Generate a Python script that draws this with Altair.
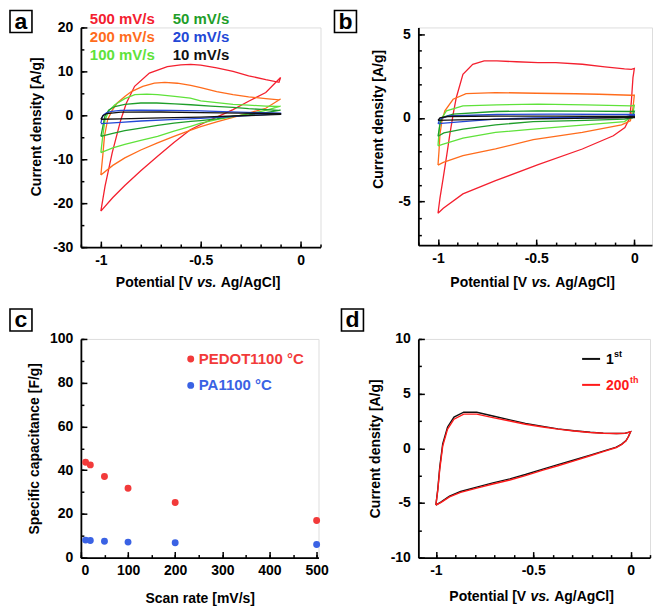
import altair as alt
import pandas as pd

FONT = "Liberation Sans"
RED = "#f4202f"
ORANGE = "#ff6c1c"
LGREEN = "#5fe23a"
DGREEN = "#1f9e2a"
BLUE = "#2348d6"
BLACK = "#111111"

# ---------------- panel a : CV curves (scan rates) ----------------
A_NAMES = ["500 mV/s", "200 mV/s", "100 mV/s", "50 mV/s", "20 mV/s", "10 mV/s"]
A_COLORS = [RED, ORANGE, LGREEN, DGREEN, BLUE, BLACK]

A500_UP_V = [-1.0, -0.979, -0.943, -0.9, -0.872, -0.831, -0.757, -0.667, -0.6, -0.55, -0.5, -0.42, -0.338, -0.26, -0.174, -0.108, -0.1]
A500_UP_I = [-21.8, -16.1, -8.5, -1.0, 2.8, 6.6, 9.6, 11.1, 11.5, 11.6, 11.4, 10.8, 10.0, 9.0, 8.1, 7.5, 8.6]
A500_DN_V = [-0.1, -0.174, -0.26, -0.338, -0.42, -0.5, -0.552, -0.634, -0.716, -0.8, -0.88, -0.94, -1.0]
A500_DN_I = [8.6, 5.2, 3.2, 1.3, -0.4, -2.1, -3.3, -6.2, -9.3, -12.6, -16.0, -18.7, -21.8]

A200_UP_V = [-1.0, -0.99, -0.982, -0.966, -0.945, -0.918, -0.88, -0.847, -0.79, -0.732, -0.68, -0.617, -0.55, -0.5, -0.42, -0.338, -0.26, -0.174, -0.108, -0.1]
A200_UP_I = [-13.6, -9.0, -4.8, -1.0, 1.0, 2.8, 4.3, 5.4, 6.6, 7.3, 7.5, 7.3, 6.8, 6.3, 5.4, 4.7, 4.2, 3.8, 3.5, 3.7]
A200_DN_V = [-0.1, -0.174, -0.26, -0.338, -0.42, -0.5, -0.55, -0.634, -0.716, -0.8, -0.88, -0.94, -1.0]
A200_DN_I = [3.7, 1.6, 0.5, -0.5, -1.5, -2.6, -3.4, -4.8, -6.3, -7.9, -9.7, -11.4, -13.6]

A100_UP_V = [-1.0, -0.99, -0.979, -0.96, -0.93, -0.88, -0.83, -0.77, -0.716, -0.63, -0.552, -0.5, -0.42, -0.338, -0.26, -0.174, -0.108, -0.1]
A100_UP_I = [-8.5, -4.5, -1.0, 1.0, 2.4, 3.8, 4.7, 4.8, 4.7, 4.3, 3.9, 3.3, 2.9, 2.5, 2.3, 2.1, 2.0, 2.1]
A100_DN_V = [-0.1, -0.174, -0.26, -0.338, -0.42, -0.5, -0.55, -0.634, -0.716, -0.8, -0.88, -0.94, -1.0]
A100_DN_I = [2.1, 1.1, 0.3, -0.3, -1.0, -1.8, -2.5, -3.6, -4.8, -5.7, -6.6, -7.4, -8.5]

A50_UP_V = [-1.0, -0.99, -0.98, -0.96, -0.93, -0.88, -0.8, -0.72, -0.63, -0.55, -0.45, -0.338, -0.26, -0.174, -0.108, -0.1]
A50_UP_I = [-4.8, -2.5, -0.2, 1.2, 2.0, 2.5, 2.8, 2.8, 2.6, 2.4, 2.1, 1.8, 1.5, 1.3, 1.1, 1.2]
A50_DN_V = [-0.1, -0.174, -0.26, -0.338, -0.42, -0.5, -0.55, -0.634, -0.716, -0.8, -0.88, -0.94, -1.0]
A50_DN_I = [1.2, 0.6, 0.1, -0.2, -0.8, -1.2, -1.4, -1.8, -2.3, -2.9, -3.5, -4.1, -4.8]

A20_UP_V = [-1.0, -0.995, -0.987, -0.97, -0.946, -0.9, -0.8, -0.65, -0.5, -0.35, -0.2, -0.1]
A20_UP_I = [-1.8, -0.8, 0.1, 0.6, 0.9, 1.1, 1.2, 1.1, 1.0, 0.8, 0.6, 0.5]
A20_DN_V = [-0.1, -0.2, -0.35, -0.5, -0.65, -0.8, -0.9, -0.96, -1.0]
A20_DN_I = [0.3, 0.1, -0.3, -0.7, -1.0, -1.3, -1.6, -1.8, -1.9]

A10_UP_V = [-1.0, -0.99, -0.97, -0.9, -0.7, -0.5, -0.3, -0.1]
A10_UP_I = [-0.9, -0.1, 0.4, 0.7, 0.75, 0.6, 0.5, 0.4]
A10_DN_V = [-0.1, -0.3, -0.5, -0.7, -0.9, -1.0]
A10_DN_I = [0.2, -0.1, -0.4, -0.6, -0.8, -0.9]

# ---------------- panel b ----------------
B500_UP_V = [-1.0, -0.99, -0.973, -0.955, -0.94, -0.92, -0.907, -0.873, -0.823, -0.765, -0.7, -0.6, -0.49, -0.4, -0.265, -0.15, -0.05, -0.015, 0.0]
B500_UP_I = [-5.7, -4.8, -3.55, -2.2, -1.0, 0.4, 1.2, 2.6, 3.2, 3.4, 3.4, 3.35, 3.3, 3.3, 3.2, 3.05, 2.92, 2.9, 2.95]
B500_DN_V = [0.0, -0.003, -0.007, -0.015, -0.023, -0.048, -0.107, -0.265, -0.49, -0.707, -0.873, -0.973, -1.0]
B500_DN_I = [2.95, 2.7, 2.4, 1.0, 0.0, -0.58, -1.07, -1.86, -2.8, -3.75, -4.54, -5.4, -5.7]

B200_UP_V = [-1.0, -0.995, -0.99, -0.98, -0.965, -0.923, -0.857, -0.707, -0.5, -0.3, -0.18, -0.015, 0.0]
B200_UP_I = [-2.82, -2.0, -0.97, -0.2, 0.42, 1.11, 1.45, 1.51, 1.47, 1.44, 1.41, 1.35, 1.35]
B200_DN_V = [0.0, -0.007, -0.02, -0.065, -0.265, -0.515, -0.707, -0.873, -0.973, -1.0]
B200_DN_I = [1.35, 0.6, -0.18, -0.42, -0.87, -1.3, -1.86, -2.26, -2.66, -2.82]

B100_UP_V = [-1.0, -0.995, -0.99, -0.957, -0.873, -0.7, -0.49, -0.25, -0.015, 0.0]
B100_UP_I = [-1.67, -0.9, -0.18, 0.42, 0.71, 0.78, 0.82, 0.78, 0.72, 0.75]
B100_DN_V = [0.0, -0.01, -0.05, -0.25, -0.515, -0.707, -0.873, -0.973, -1.0]
B100_DN_I = [0.75, 0.1, -0.22, -0.42, -0.67, -0.87, -1.21, -1.57, -1.67]

B50_UP_V = [-1.0, -0.99, -0.98, -0.923, -0.707, -0.49, -0.25, -0.015, 0.0]
B50_UP_I = [-1.1, -0.4, 0.02, 0.22, 0.38, 0.42, 0.4, 0.38, 0.4]
B50_DN_V = [0.0, -0.01, -0.05, -0.25, -0.515, -0.707, -0.873, -0.97, -1.0]
B50_DN_I = [0.4, 0.0, -0.08, -0.15, -0.22, -0.42, -0.67, -0.9, -1.1]

B20_UP_V = [-1.0, -0.99, -0.95, -0.7, -0.4, -0.1, 0.0]
B20_UP_I = [-0.35, -0.08, 0.12, 0.2, 0.22, 0.2, 0.2]
B20_DN_V = [0.0, -0.05, -0.3, -0.515, -0.707, -0.873, -1.0]
B20_DN_I = [0.15, 0.05, 0.03, 0.0, -0.08, -0.22, -0.35]

B10_UP_V = [-1.0, -0.99, -0.95, -0.7, -0.4, -0.1, 0.0]
B10_UP_I = [-0.15, 0.0, 0.08, 0.1, 0.1, 0.08, 0.08]
B10_DN_V = [0.0, -0.3, -0.6, -0.9, -1.0]
B10_DN_I = [0.02, -0.03, -0.07, -0.12, -0.15]

# ---------------- panel c : specific capacitance ----------------
SCAN_RATES = [10, 20, 50, 100, 200, 500]
PEDOT_CAP = [43.6, 42.4, 37.1, 31.7, 25.2, 17.0]
PA_CAP = [8.0, 7.8, 7.5, 7.1, 6.8, 6.0]
C_NAMES = ["PEDOT1100 °C", "PA1100 °C"]
C_COLORS = ["#f23a3a", "#3a62e4"]

# ---------------- panel d : cycling ----------------
D_NAMES = ["1st", "200th"]
D_COLORS = [BLACK, "#ff1a1a"]
D_UP_V = [-1.0, -0.99, -0.98, -0.965, -0.94, -0.907, -0.857, -0.79, -0.707, -0.62, -0.54, -0.45, -0.373, -0.29, -0.207, -0.14, -0.073, -0.03, 0.0]
D1_UP_I = [-5.2, -3.7, -1.7, 0.4, 1.95, 2.85, 3.3, 3.3, 2.95, 2.6, 2.28, 2.0, 1.78, 1.6, 1.46, 1.39, 1.35, 1.36, 1.5]
D200_UP_I = [-5.2, -3.8, -1.9, 0.2, 1.75, 2.66, 3.12, 3.12, 2.81, 2.5, 2.2, 1.95, 1.75, 1.58, 1.44, 1.38, 1.35, 1.36, 1.5]
D_DN_V = [0.0, -0.01, -0.023, -0.045, -0.073, -0.14, -0.207, -0.29, -0.373, -0.45, -0.54, -0.62, -0.707, -0.79, -0.873, -0.93, -0.973, -1.0]
D1_DN_I = [1.5, 1.1, 0.7, 0.38, 0.1, -0.26, -0.62, -1.07, -1.5, -1.9, -2.4, -2.8, -3.17, -3.55, -3.95, -4.38, -4.9, -5.2]
D200_DN_I = [1.5, 1.1, 0.68, 0.35, 0.07, -0.3, -0.68, -1.15, -1.6, -2.0, -2.5, -2.9, -3.27, -3.65, -4.03, -4.45, -4.95, -5.2]


def loop(field, name, uv, ui, dv, di):
    v = list(uv) + list(dv)
    i = list(ui) + list(di)
    return pd.DataFrame({field: name, "V": v, "I": i, "k": list(range(len(v)))})


df_a = pd.concat([
    loop("sa", "500 mV/s", A500_UP_V, A500_UP_I, A500_DN_V, A500_DN_I),
    loop("sa", "200 mV/s", A200_UP_V, A200_UP_I, A200_DN_V, A200_DN_I),
    loop("sa", "100 mV/s", A100_UP_V, A100_UP_I, A100_DN_V, A100_DN_I),
    loop("sa", "50 mV/s", A50_UP_V, A50_UP_I, A50_DN_V, A50_DN_I),
    loop("sa", "20 mV/s", A20_UP_V, A20_UP_I, A20_DN_V, A20_DN_I),
    loop("sa", "10 mV/s", A10_UP_V, A10_UP_I, A10_DN_V, A10_DN_I),
])
df_b = pd.concat([
    loop("sb", "500 mV/s", B500_UP_V, B500_UP_I, B500_DN_V, B500_DN_I),
    loop("sb", "200 mV/s", B200_UP_V, B200_UP_I, B200_DN_V, B200_DN_I),
    loop("sb", "100 mV/s", B100_UP_V, B100_UP_I, B100_DN_V, B100_DN_I),
    loop("sb", "50 mV/s", B50_UP_V, B50_UP_I, B50_DN_V, B50_DN_I),
    loop("sb", "20 mV/s", B20_UP_V, B20_UP_I, B20_DN_V, B20_DN_I),
    loop("sb", "10 mV/s", B10_UP_V, B10_UP_I, B10_DN_V, B10_DN_I),
])
df_c = pd.concat([
    pd.DataFrame({"sc": C_NAMES[0], "rate": SCAN_RATES, "cap": PEDOT_CAP}),
    pd.DataFrame({"sc": C_NAMES[1], "rate": SCAN_RATES, "cap": PA_CAP}),
])
df_d = pd.concat([
    loop("sd", "1st", D_UP_V, D1_UP_I, D_DN_V, D1_DN_I),
    loop("sd", "200th", D_UP_V, D200_UP_I, D_DN_V, D200_DN_I),
])


def frange(a, b, step):
    out = []
    n = int(round((b - a) / step))
    for j in range(n + 1):
        out.append(round(a + j * step, 4))
    return out


AX_LABEL = dict(labelFont=FONT, labelFontSize=14, labelFontWeight="bold", labelColor="#000")


def tick_layers(xname, yname, xdom, ydom, W, H, xmaj, xmin, ymaj, ymin):
    pt = pd.DataFrame({xname: [xdom[0]], yname: [ydom[0]]})
    xs = alt.Scale(domain=xdom, nice=False, zero=False)
    ys = alt.Scale(domain=ydom, nice=False, zero=False)
    layers = []
    for vals_x, vals_y, size in [(xmaj, ymaj, 6), (xmin, ymin, 3)]:
        layers.append(
            alt.Chart(pt).mark_point(opacity=0).encode(
                x=alt.X(f"{xname}:Q", scale=xs, axis=alt.Axis(
                    orient="top", offset=-H, values=vals_x, labels=False, domain=False,
                    tickSize=size, tickWidth=1.5, tickColor="#000", title=None,
                    grid=False, minExtent=0, maxExtent=0)),
                y=alt.Y(f"{yname}:Q", scale=ys, axis=alt.Axis(
                    orient="right", offset=-W, values=vals_y, labels=False, domain=False,
                    tickSize=size, tickWidth=1.5, tickColor="#000", title=None,
                    grid=False, minExtent=0, maxExtent=0)),
            )
        )
    return layers


def main_axes(xname, yname, xdom, ydom, xmaj, ymaj, ytitle, ytitle_y, ytitle_x, xtitle=None):
    xa = dict(orient="bottom", values=xmaj, ticks=False, labelPadding=6, domainWidth=1.8,
              domainColor="#000", grid=False, labelExpr="datum.value + ''", **AX_LABEL)
    if xtitle is None:
        xa["title"] = None
    else:
        xa.update(title=xtitle, titleFont=FONT, titleFontSize=14, titleFontWeight="bold",
                  titleColor="#000", titlePadding=14)
    ya = dict(orient="left", values=ymaj, ticks=False, labelPadding=8, domainWidth=1.8,
              domainColor="#000", grid=False, labelExpr="datum.value + ''",
              title=ytitle, titleFont=FONT, titleFontSize=14, titleFontWeight="bold",
              titleColor="#000", titleY=ytitle_y, titleX=ytitle_x, titleBaseline="middle",
              titleAngle=270, **AX_LABEL)
    xe = alt.X(f"{xname}:Q", scale=alt.Scale(domain=xdom, nice=False, zero=False), axis=alt.Axis(**xa))
    ye = alt.Y(f"{yname}:Q", scale=alt.Scale(domain=ydom, nice=False, zero=False), axis=alt.Axis(**ya))
    return xe, ye


def text_layer(txt, x, y, color="#000", size=14, align="left", italic=False, weight="bold", baseline="middle"):
    return alt.Chart(pd.DataFrame({"t": [txt]})).mark_text(
        font=FONT, fontSize=size, fontWeight=weight, fontStyle="italic" if italic else "normal",
        color=color, align=align, baseline=baseline,
    ).encode(text="t:N", x=alt.value(x), y=alt.value(y))


def letter_box(letter, x0, y0):
    box = alt.Chart(pd.DataFrame({"t": [letter]})).mark_rect(
        fill="white", stroke="#000", strokeWidth=1.6
    ).encode(x=alt.value(x0), x2=alt.value(x0 + 22), y=alt.value(y0), y2=alt.value(y0 + 22))
    t = text_layer(letter, x0 + 11, y0 + 11.5, size=23, align="center")
    return [box, t]


def potential_title(W, H, dy=37):
    c = W / 2.0
    return [
        text_layer("Potential [V", c - 8, H + dy, align="right"),
        text_layer("vs.", c + 6, H + dy, align="center", italic=True),
        text_layer("Ag/AgCl]", c + 20, H + dy, align="left"),
    ]


# ---------------- build panel a ----------------
WA, HA = 240, 220
xdom_a, ydom_a = [-1.1, 0.1], [-30, 20]
xe, ye = main_axes("V", "I", xdom_a, ydom_a, [-1, -0.5, 0], [-30, -20, -10, 0, 10, 20],
                   "Current density [A/g]", HA * 0.45, -44)
lines_a = alt.Chart(df_a).mark_line(strokeWidth=1.3, clip=True).encode(
    x=xe, y=ye, order="k:Q", detail="sa:N",
    color=alt.Color("sa:N", scale=alt.Scale(domain=A_NAMES, range=A_COLORS), legend=None),
)
leg_a = []
for j, (nm, col) in enumerate(zip(A_NAMES, A_COLORS)):
    colx = 9 if j < 3 else 92
    rowy = [-8.3, 9.7, 27.7][j % 3]
    leg_a.append(text_layer(nm, colx, rowy, color=col, size=15))
panel_a = alt.layer(
    lines_a,
    *tick_layers("V", "I", xdom_a, ydom_a, WA, HA, [-1, -0.5, 0], frange(-1.1, 0.1, 0.1),
                 [-30, -20, -10, 0, 10, 20], frange(-30, 20, 5)),
    *leg_a, *potential_title(WA, HA, 36), *letter_box("a", -71, -17),
).resolve_axis(x="independent", y="independent").properties(width=WA, height=HA)

# ---------------- build panel b ----------------
WB, HB = 234, 218
xdom_b, ydom_b = [-1.1, 0.09], [-7.6, 5.4]
xe, ye = main_axes("V", "I", xdom_b, ydom_b, [-1, -0.5, 0], [-5, 0, 5],
                   "Current density [A/g]", HB * 0.42, -40)
lines_b = alt.Chart(df_b).mark_line(strokeWidth=1.3, clip=True).encode(
    x=xe, y=ye, order="k:Q", detail="sb:N",
    color=alt.Color("sb:N", scale=alt.Scale(domain=A_NAMES, range=A_COLORS), legend=None),
)
panel_b = alt.layer(
    lines_b,
    *tick_layers("V", "I", xdom_b, ydom_b, WB, HB, [-1, -0.5, 0], frange(-1.1, 0.0, 0.1),
                 [-5, 0, 5], frange(-7, 5, 1)),
    *potential_title(WB, HB, 38), *letter_box("b", -84, -17),
).resolve_axis(x="independent", y="independent").properties(width=WB, height=HB)

# ---------------- build panel c ----------------
WC, HC = 238, 219
xdom_c, ydom_c = [0, 504], [0, 100]
xe, ye = main_axes("rate", "cap", xdom_c, ydom_c, [0, 100, 200, 300, 400, 500], [0, 20, 40, 60, 80, 100],
                   "Specific capacitance [F/g]", HC * 0.5, -46, xtitle="Scan rate [mV/s]")
pts_c = alt.Chart(df_c).mark_circle(size=48, opacity=1).encode(
    x=xe, y=ye,
    color=alt.Color("sc:N", scale=alt.Scale(domain=C_NAMES, range=C_COLORS), legend=None),
)
leg_c = [
    alt.Chart(pd.DataFrame({"t": ["PEDOT"]})).mark_circle(size=48, color=C_COLORS[0], opacity=1).encode(
        x=alt.value(110), y=alt.value(20)),
    text_layer(C_NAMES[0], 118, 20, color=C_COLORS[0], size=15),
    alt.Chart(pd.DataFrame({"t": ["PA"]})).mark_circle(size=48, color=C_COLORS[1], opacity=1).encode(
        x=alt.value(110), y=alt.value(46.5)),
    text_layer(C_NAMES[1], 118, 46.5, color=C_COLORS[1], size=15),
]
panel_c = alt.layer(
    pts_c,
    *tick_layers("rate", "cap", xdom_c, ydom_c, WC, HC, [0, 100, 200, 300, 400, 500],
                 frange(0, 500, 50), [0, 20, 40, 60, 80, 100], frange(0, 100, 10)),
    *leg_c, *letter_box("c", -71, -30),
).resolve_axis(x="independent", y="independent").properties(width=WC, height=HC)

# ---------------- build panel d ----------------
WD, HD = 232, 219
xdom_d, ydom_d = [-1.09, 0.1], [-10, 10]
xe, ye = main_axes("V", "I", xdom_d, ydom_d, [-1, -0.5, 0], [-10, -5, 0, 5, 10],
                   "Current density [A/g]", HD * 0.5, -43)
lines_d = alt.Chart(df_d).mark_line(strokeWidth=1.4, clip=True).encode(
    x=xe, y=ye, order="k:Q", detail="sd:N",
    color=alt.Color("sd:N", scale=alt.Scale(domain=D_NAMES, range=D_COLORS), legend=None),
)
leg_d = [
    alt.Chart(pd.DataFrame({"t": ["1st"]})).mark_rule(color=D_COLORS[0], strokeWidth=2).encode(
        x=alt.value(164), x2=alt.value(182), y=alt.value(20)),
    text_layer("1", 188, 21, size=14),
    text_layer("st", 196, 15, size=9),
    alt.Chart(pd.DataFrame({"t": ["200th"]})).mark_rule(color=D_COLORS[1], strokeWidth=2).encode(
        x=alt.value(164), x2=alt.value(182), y=alt.value(46)),
    text_layer("200", 188, 47, color=D_COLORS[1], size=14),
    text_layer("th", 212, 41, color=D_COLORS[1], size=9),
]
panel_d = alt.layer(
    lines_d,
    *tick_layers("V", "I", xdom_d, ydom_d, WD, HD, [-1, -0.5, 0], frange(-1.0, 0.1, 0.1),
                 [-10, -5, 0, 5, 10], frange(-10, 10, 2.5)),
    *leg_d, *potential_title(WD, HD, 39), *letter_box("d", -77, -30),
).resolve_axis(x="independent", y="independent").properties(width=WD, height=HD)

top = alt.hconcat(panel_a, panel_b, spacing=10).resolve_scale(color="independent")
bottom = alt.hconcat(panel_c, panel_d, spacing=10).resolve_scale(color="independent")
chart = alt.vconcat(top, bottom, spacing=16).resolve_scale(color="independent").properties(
    padding={"left": 0, "top": 0, "right": 0, "bottom": 0}
).configure_view(stroke=None).configure(background="white")

chart.save("out.html", embed_options={"renderer": "svg", "actions": False})
